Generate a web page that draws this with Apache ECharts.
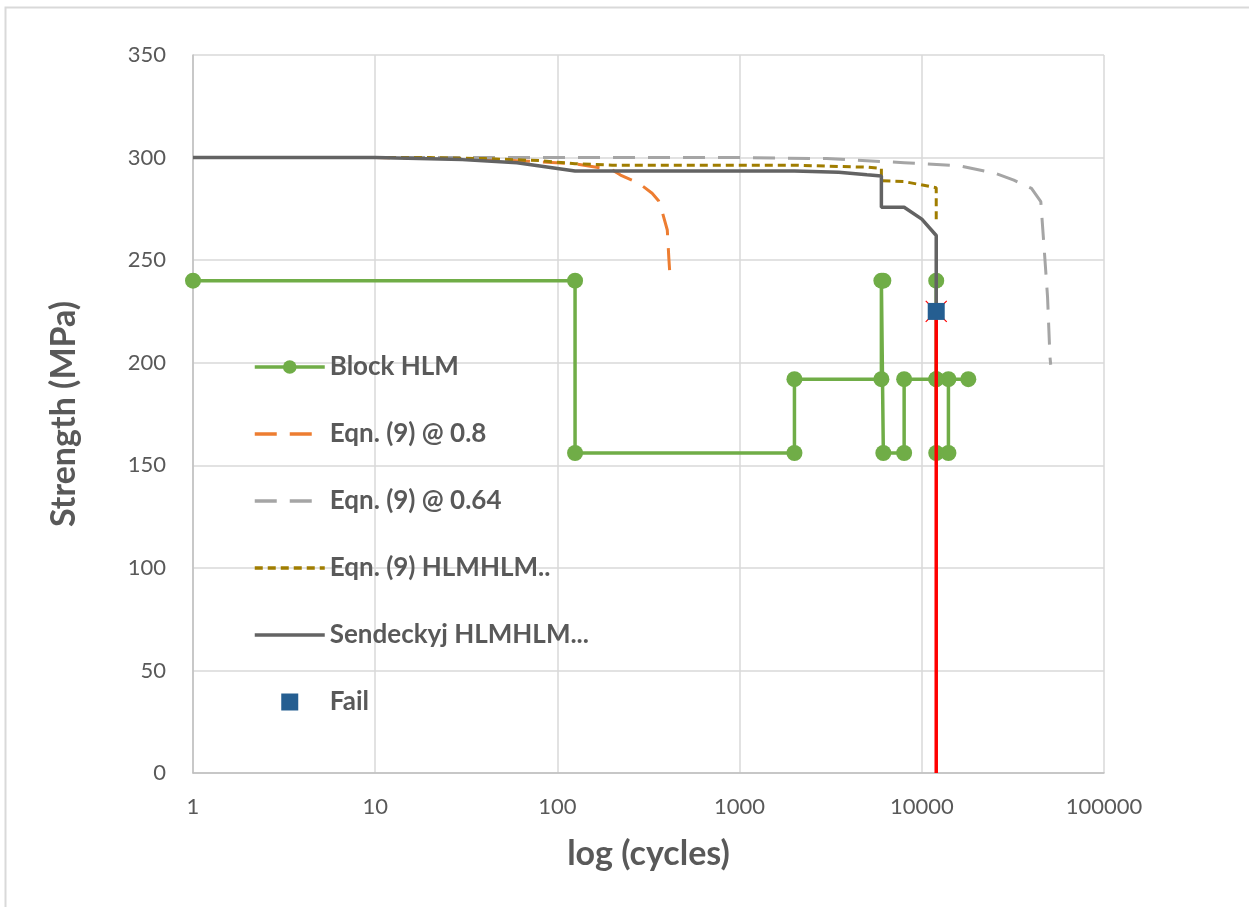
<!DOCTYPE html>
<html>
<head>
<meta charset="utf-8">
<script src="https://cdn.jsdelivr.net/npm/echarts@6/dist/echarts.min.js"></script>
<style>
html,body{margin:0;padding:0;background:#fff;}
#chart{width:1249px;height:907px;}
</style>
</head>
<body>
<div id="chart"></div>
<script>
// ---- data (cycles, strength MPa) ----
const yTicks = [0, 50, 100, 150, 200, 250, 300, 350];
const xTicks = [1, 10, 100, 1000, 10000, 100000];

const blockX = [1, 125, 125, 2000, 2000, 6000, 6000, 6150, 6150, 8000, 8000, 12000, 12000, 12000, 14000, 14000, 12000, 18000];
const blockY = [240, 240, 156, 156, 192, 192, 240, 240, 156, 156, 192, 192, 240, 156, 156, 192, 192, 192];

const eq08X = [1, 10, 30, 60, 125, 200, 222, 279, 331, 359, 376, 401, 409, 414];
const eq08Y = [300, 300, 299.5, 298.5, 297, 294, 291.5, 287.6, 282.6, 279, 273.6, 264.7, 250.9, 243.6];

const eq064X = [1, 1000, 3000, 8000, 16000, 25000, 32000, 40000, 45000, 47000, 49000, 50500, 51000];
const eq064Y = [300, 300, 299.5, 297.5, 296, 292.5, 289, 285, 278.5, 255, 232, 203, 199];

const eqHlmX = [1, 20, 40, 80, 125, 200, 2000, 5000, 6000, 6000, 8000, 12000, 12000];
const eqHlmY = [300, 300, 299.5, 298.5, 297, 296.3, 296.3, 295.3, 294.7, 288.7, 288.3, 285.3, 268.5];

const sendX = [1, 10, 30, 60, 125, 2000, 3500, 5000, 6000, 6000, 8000, 10000, 12000, 12000];
const sendY = [300, 300, 299, 297.5, 293.5, 293.5, 292.8, 291.6, 291, 275.8, 275.8, 270, 262, 225];

const failX = [12000];
const failY = [225];

const redX = [12000, 12000];
const redY = [0, 225];

const names = ['Block HLM', 'Eqn. (9) @ 0.8', 'Eqn. (9) @ 0.64', 'Eqn. (9) HLMHLM..', 'Sendeckyj HLMHLM...', 'Fail'];

function pairs(xs, ys) { return xs.map((x, i) => [x, ys[i]]); }

const FONT = 'Lato';
const TXT = '#595959';

const legendData = names.map((n, i) => {
  if (i === 0) return {name: n};
  if (i === 5) return {name: n, icon: 'path://M0,0H10V10H0Z', itemStyle: {color: '#255e91', opacity: 1}};
  return {name: n, itemStyle: {opacity: 0}};
});

const redData = pairs(redX, redY).map((p, i) => i === 0 ? {value: p, symbol: 'none'} : {value: p});

const chart = echarts.init(document.getElementById('chart'), null, {renderer: 'canvas'});
chart.setOption({
  backgroundColor: '#ffffff',
  animation: false,
  graphic: [{
    type: 'rect', left: 3, top: 5, silent: true,
    shape: {width: 1400, height: 1000},
    style: {fill: 'none', stroke: '#d9d9d9', lineWidth: 2}
  }],
  grid: {left: 193, right: 145, top: 55, bottom: 134, containLabel: false},
  xAxis: {
    type: 'log', logBase: 10, min: 1, max: 100000,
    name: 'log (cycles)', nameLocation: 'middle', nameGap: 64,
    nameTextStyle: {fontFamily: FONT, fontSize: 34, fontWeight: 'bold', color: TXT},
    axisLine: {show: true, lineStyle: {color: '#bfbfbf', width: 1.5}},
    axisTick: {show: false},
    minorTick: {show: false},
    splitLine: {show: true, lineStyle: {color: '#d9d9d9', width: 1.5}},
    axisLabel: {
      fontFamily: FONT, fontSize: 22, color: TXT, margin: 23,
      formatter: v => String(Math.round(v))
    }
  },
  yAxis: {
    type: 'value', min: 0, max: 350, interval: 50,
    name: 'Strength (MPa)', nameLocation: 'middle', nameGap: 112,
    nameTextStyle: {fontFamily: FONT, fontSize: 34, fontWeight: 'bold', color: TXT},
    axisLine: {show: true, lineStyle: {color: '#bfbfbf', width: 1.5}},
    axisTick: {show: false},
    splitLine: {show: true, lineStyle: {color: '#d9d9d9', width: 1.5}},
    axisLabel: {fontFamily: FONT, fontSize: 22, color: TXT, margin: 27}
  },
  legend: {
    orient: 'vertical', left: 248, top: 347,
    itemWidth: 70, itemHeight: 17, itemGap: 37,
    data: legendData,
    lineStyle: {width: 3.5},
    textStyle: {fontFamily: FONT, fontSize: 26, fontWeight: 'bold', color: TXT, lineHeight: 30}
  },
  series: [
    {
      name: names[0], type: 'line', data: pairs(blockX, blockY),
      symbol: 'circle', symbolSize: 16, showAllSymbol: true,
      lineStyle: {color: '#70ad47', width: 3.5},
      itemStyle: {color: '#70ad47'}, z: 2
    },
    {
      name: names[1], type: 'line', data: pairs(eq08X, eq08Y), symbol: 'none',
      lineStyle: {color: '#ed7d31', width: 3, type: [22, 13]},
      itemStyle: {color: '#ed7d31'}, z: 3
    },
    {
      name: names[2], type: 'line', data: pairs(eq064X, eq064Y), symbol: 'none',
      lineStyle: {color: '#a5a5a5', width: 3, type: [22, 13]},
      itemStyle: {color: '#a5a5a5'}, z: 4
    },
    {
      name: names[3], type: 'line', data: pairs(eqHlmX, eqHlmY), symbol: 'none',
      lineStyle: {color: '#a07d00', width: 3, type: [8, 5]},
      itemStyle: {color: '#a07d00'}, z: 5
    },
    {
      name: names[4], type: 'line', data: pairs(sendX, sendY), symbol: 'none',
      lineStyle: {color: '#636363', width: 3.5},
      itemStyle: {color: '#636363'}, z: 6
    },
    {
      name: 'Failure line', type: 'line', data: redData,
      symbol: 'path://M0,0L1,1L0.5,0.5L1,0L0,1L0.5,0.5Z', symbolSize: 21, showSymbol: true,
      symbolKeepAspect: true,
      lineStyle: {color: '#ff0000', width: 3.5},
      itemStyle: {color: 'none', borderColor: '#ff0000', borderWidth: 1.2}, z: 7
    },
    {
      name: names[5], type: 'scatter', data: pairs(failX, failY),
      symbol: 'rect', symbolSize: 17,
      itemStyle: {color: '#255e91', opacity: 1}, z: 8
    }
  ]
});
</script>
</body>
</html>
